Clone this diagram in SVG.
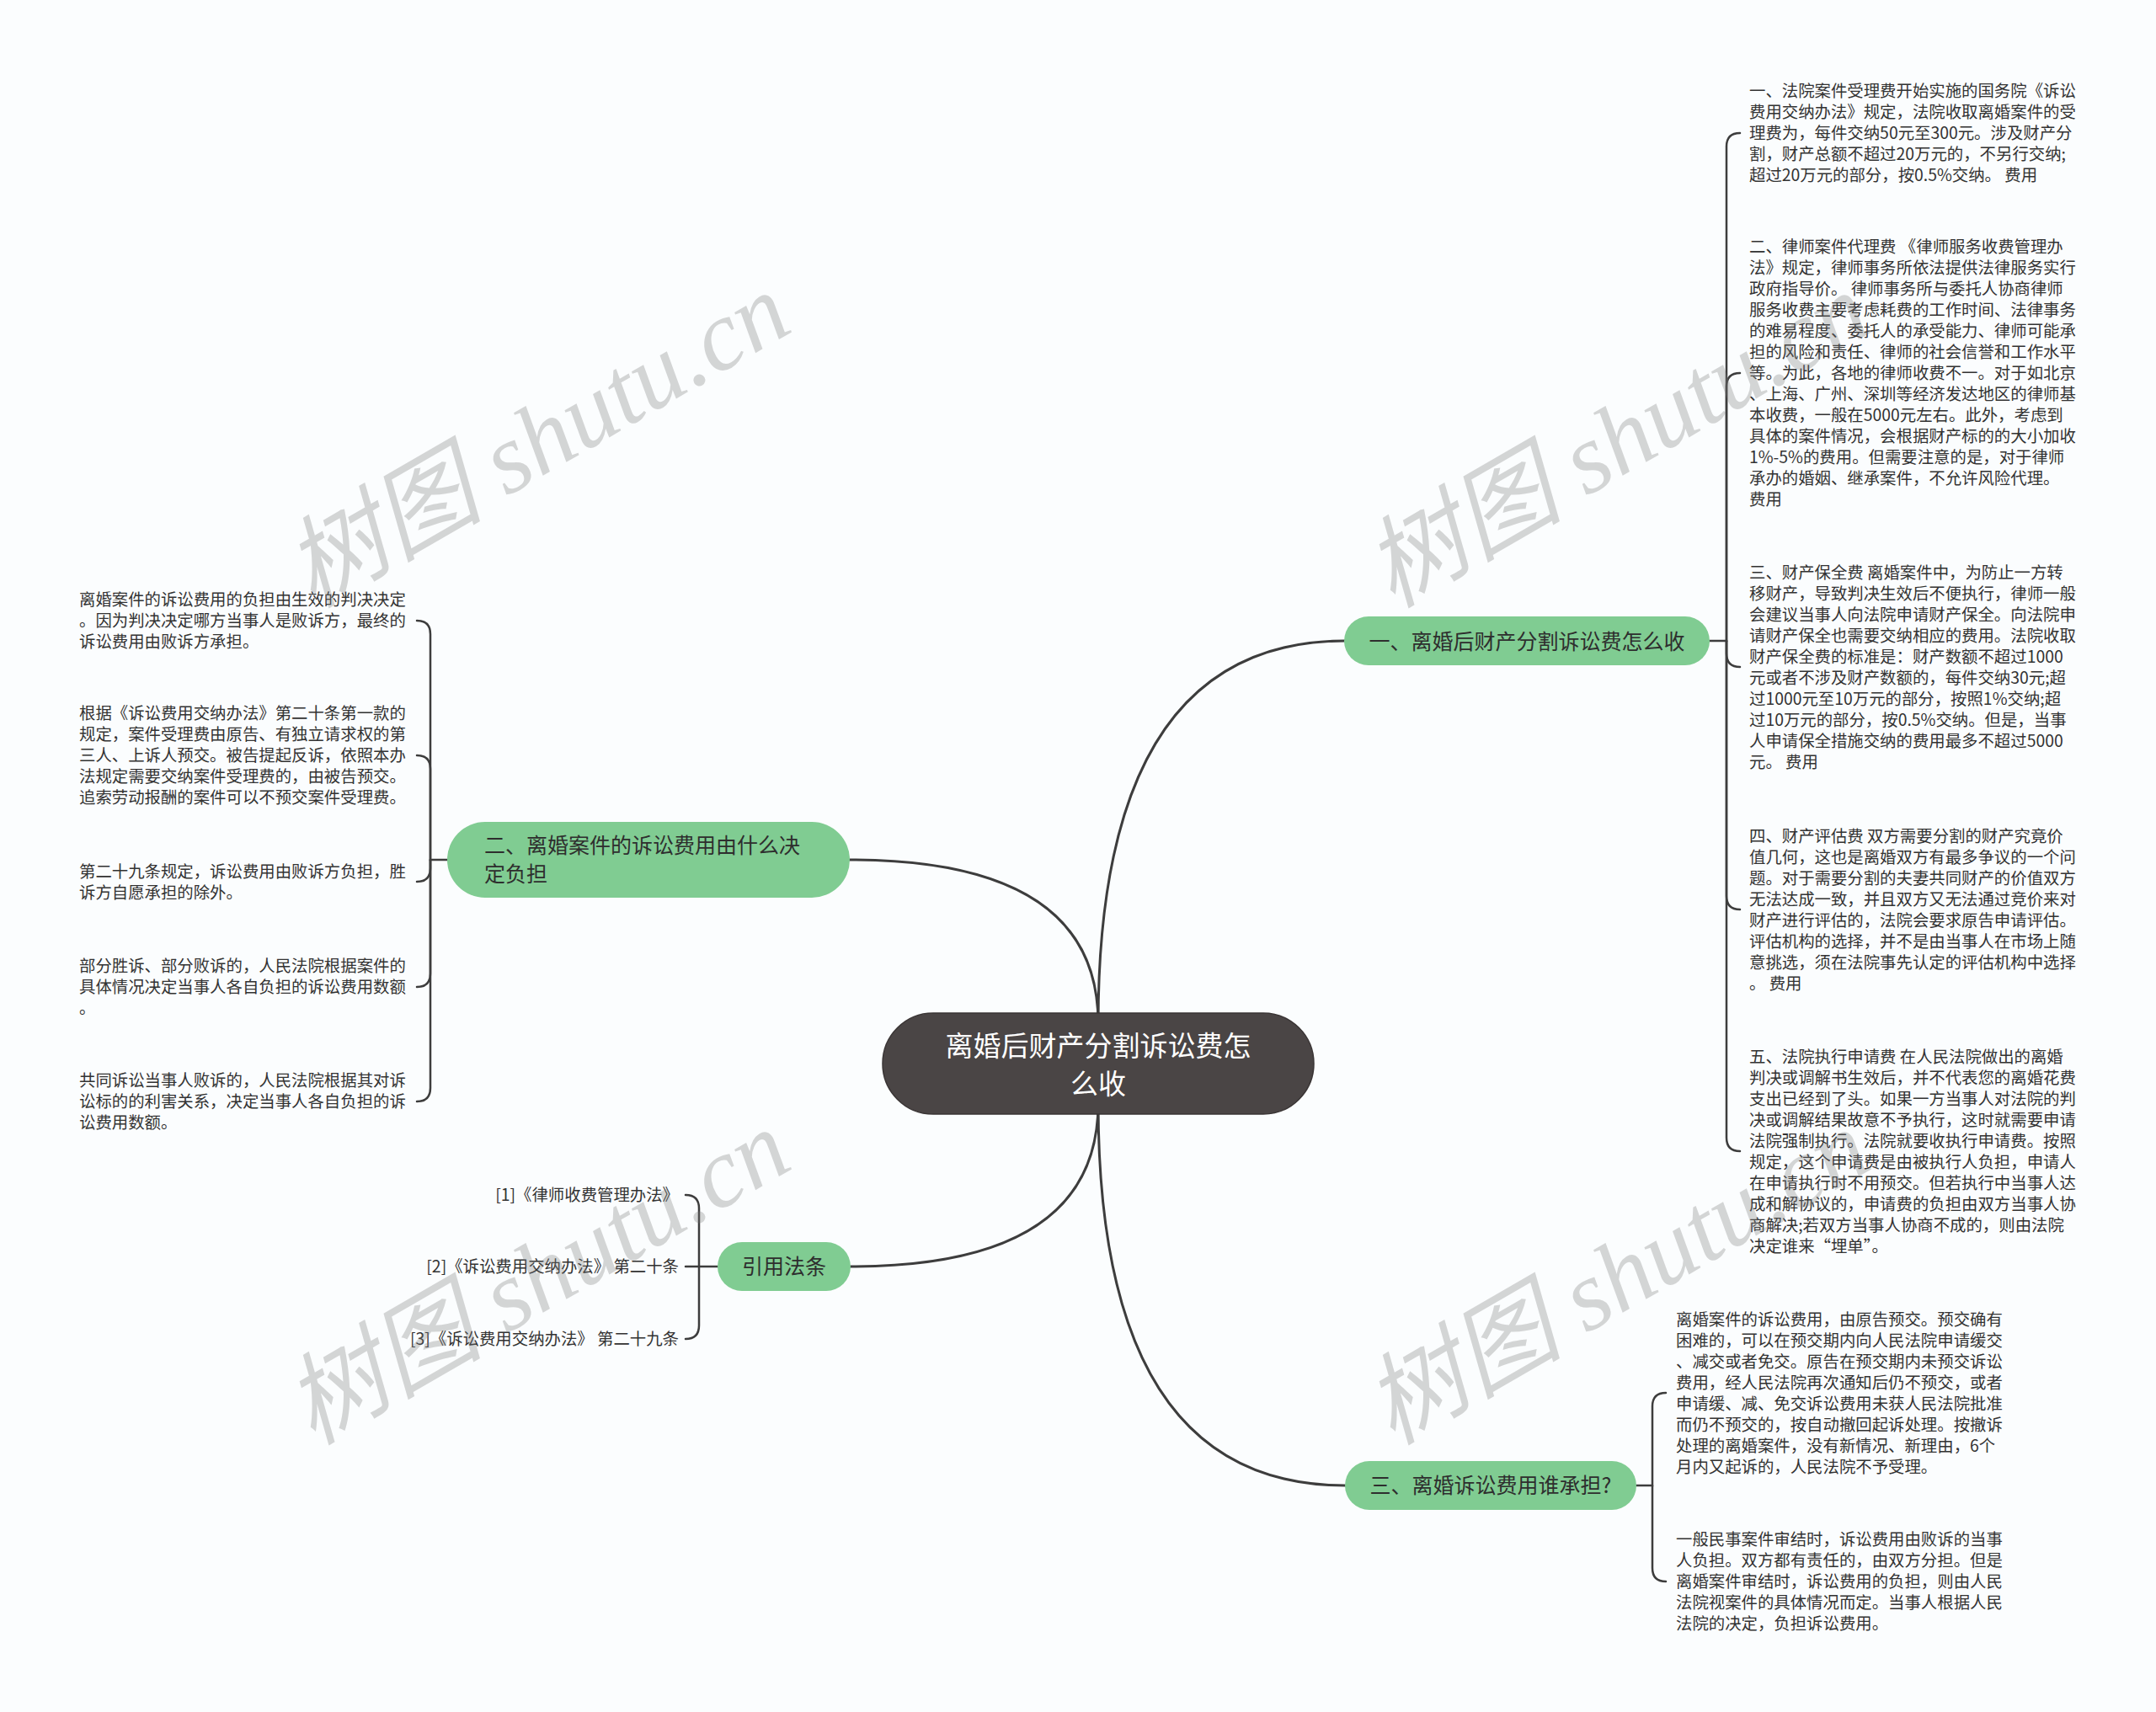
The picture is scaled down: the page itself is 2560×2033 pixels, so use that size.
<svg xmlns="http://www.w3.org/2000/svg" width="2560" height="2033" viewBox="0 0 2560 2033">
<style>
.bg{fill:#fbfdfe}
.t{font-family:"Noto Sans CJK SC","Noto Sans",sans-serif;font-size:19.4px;fill:#333}
.n{font-family:"Noto Sans CJK SC","Noto Sans",sans-serif;font-size:25px;fill:#2e2e2e}
.green{fill:#80cc92}
.root{fill:#4a4545;stroke:#3a3535;stroke-width:1.5}
.rt{font-family:"Noto Sans CJK SC","Noto Sans",sans-serif;font-size:33px;fill:#ffffff}
.c{fill:none;stroke:#3d3d3d;stroke-width:3;stroke-linecap:round}
.b{fill:none;stroke:#3d3d3d;stroke-width:2.5;stroke-linecap:round}
.wm{font-family:"Liberation Serif","Noto Sans CJK SC",serif;font-style:italic;font-size:118px;fill:#7a7a7a;opacity:.3}
</style>
<rect class="bg" x="0" y="0" width="2560" height="2033"/>

<g id="connectors">
<path class="c" d="M1304 1215 Q1304 761 1597 761"/>
<path class="c" d="M1304 1215 Q1304 1021 1009 1021"/>
<path class="c" d="M1304 1310 Q1304 1504 1010 1504"/>
<path class="c" d="M1304 1310 Q1304 1764 1597 1764"/>
<path class="b" d="M2030 761 L2050 761 L2050 174 Q2050 158 2066 158"/>
<path class="b" d="M2050 761 L2050 459 Q2050 443 2066 443"/>
<path class="b" d="M2050 761 L2050 776 Q2050 792 2066 792"/>
<path class="b" d="M2050 761 L2050 1064 Q2050 1080 2066 1080"/>
<path class="b" d="M2050 761 L2050 1351 Q2050 1367 2066 1367"/>
<path class="b" d="M531 1021 L511 1021 L511 753 Q511 737 495 737"/>
<path class="b" d="M511 1021 L511 913 Q511 897 495 897"/>
<path class="b" d="M511 1021 L511 1031 Q511 1047 495 1047"/>
<path class="b" d="M511 1021 L511 1156 Q511 1172 495 1172"/>
<path class="b" d="M511 1021 L511 1292 Q511 1308 495 1308"/>
<path class="b" d="M852 1504 L814 1504"/>
<path class="b" d="M830 1504 L830 1435 Q830 1419 814 1419"/>
<path class="b" d="M830 1504 L830 1574 Q830 1590 814 1590"/>
<path class="b" d="M1943 1764 L1962 1764 L1962 1670 Q1962 1654 1978 1654"/>
<path class="b" d="M1962 1764 L1962 1862 Q1962 1878 1978 1878"/>
</g>

<g id="root">
<rect class="root" x="1048" y="1203" width="512" height="120" rx="60"/>
<text class="rt" x="1304" y="1254" text-anchor="middle">离婚后财产分割诉讼费怎</text>
<text class="rt" x="1304" y="1299" text-anchor="middle">么收</text>
</g>

<g id="node1">
<rect class="green" x="1596" y="732" width="434" height="58" rx="29"/>
<text class="n" x="1813" y="771" text-anchor="middle">一、离婚后财产分割诉讼费怎么收</text>
</g>

<g id="node2">
<rect class="green" x="531" y="976" width="478" height="90" rx="45"/>
<text class="n" x="575" y="1013">二、离婚案件的诉讼费用由什么决</text>
<text class="n" x="575" y="1047">定负担</text>
</g>

<g id="node3">
<rect class="green" x="1597" y="1735" width="346" height="58" rx="29"/>
<text class="n" x="1770" y="1773" text-anchor="middle">三、离婚诉讼费用谁承担?</text>
</g>

<g id="node-ref">
<rect class="green" x="852" y="1475" width="158" height="58" rx="29"/>
<text class="n" x="931" y="1513" text-anchor="middle">引用法条</text>
</g>

<g id="r1">
<text class="t" x="2077" y="115">一、法院案件受理费开始实施的国务院《诉讼</text>
<text class="t" x="2077" y="140">费用交纳办法》规定，法院收取离婚案件的受</text>
<text class="t" x="2077" y="165">理费为，每件交纳50元至300元。涉及财产分</text>
<text class="t" x="2077" y="190">割，财产总额不超过20万元的，不另行交纳;</text>
<text class="t" x="2077" y="215">超过20万元的部分，按0.5%交纳。 费用</text>
</g>
<g id="r2">
<text class="t" x="2077" y="300">二、律师案件代理费 《律师服务收费管理办</text>
<text class="t" x="2077" y="325">法》规定，律师事务所依法提供法律服务实行</text>
<text class="t" x="2077" y="350">政府指导价。 律师事务所与委托人协商律师</text>
<text class="t" x="2077" y="375">服务收费主要考虑耗费的工作时间、法律事务</text>
<text class="t" x="2077" y="400">的难易程度、委托人的承受能力、律师可能承</text>
<text class="t" x="2077" y="425">担的风险和责任、律师的社会信誉和工作水平</text>
<text class="t" x="2077" y="450">等。为此，各地的律师收费不一。对于如北京</text>
<text class="t" x="2077" y="475">、上海、广州、深圳等经济发达地区的律师基</text>
<text class="t" x="2077" y="500">本收费，一般在5000元左右。此外，考虑到</text>
<text class="t" x="2077" y="525">具体的案件情况，会根据财产标的的大小加收</text>
<text class="t" x="2077" y="550">1%-5%的费用。但需要注意的是，对于律师</text>
<text class="t" x="2077" y="575">承办的婚姻、继承案件，不允许风险代理。</text>
<text class="t" x="2077" y="600">费用</text>
</g>
<g id="r3">
<text class="t" x="2077" y="687">三、财产保全费 离婚案件中，为防止一方转</text>
<text class="t" x="2077" y="712">移财产，导致判决生效后不便执行，律师一般</text>
<text class="t" x="2077" y="737">会建议当事人向法院申请财产保全。向法院申</text>
<text class="t" x="2077" y="762">请财产保全也需要交纳相应的费用。法院收取</text>
<text class="t" x="2077" y="787">财产保全费的标准是：财产数额不超过1000</text>
<text class="t" x="2077" y="812">元或者不涉及财产数额的，每件交纳30元;超</text>
<text class="t" x="2077" y="837">过1000元至10万元的部分，按照1%交纳;超</text>
<text class="t" x="2077" y="862">过10万元的部分，按0.5%交纳。但是，当事</text>
<text class="t" x="2077" y="887">人申请保全措施交纳的费用最多不超过5000</text>
<text class="t" x="2077" y="912">元。 费用</text>
</g>
<g id="r4">
<text class="t" x="2077" y="1000">四、财产评估费 双方需要分割的财产究竟价</text>
<text class="t" x="2077" y="1025">值几何，这也是离婚双方有最多争议的一个问</text>
<text class="t" x="2077" y="1050">题。对于需要分割的夫妻共同财产的价值双方</text>
<text class="t" x="2077" y="1075">无法达成一致，并且双方又无法通过竞价来对</text>
<text class="t" x="2077" y="1100">财产进行评估的，法院会要求原告申请评估。</text>
<text class="t" x="2077" y="1125">评估机构的选择，并不是由当事人在市场上随</text>
<text class="t" x="2077" y="1150">意挑选，须在法院事先认定的评估机构中选择</text>
<text class="t" x="2077" y="1175">。 费用</text>
</g>
<g id="r5">
<text class="t" x="2077" y="1262">五、法院执行申请费 在人民法院做出的离婚</text>
<text class="t" x="2077" y="1287">判决或调解书生效后，并不代表您的离婚花费</text>
<text class="t" x="2077" y="1312">支出已经到了头。如果一方当事人对法院的判</text>
<text class="t" x="2077" y="1337">决或调解结果故意不予执行，这时就需要申请</text>
<text class="t" x="2077" y="1362">法院强制执行。法院就要收执行申请费。按照</text>
<text class="t" x="2077" y="1387">规定，这个申请费是由被执行人负担，申请人</text>
<text class="t" x="2077" y="1412">在申请执行时不用预交。但若执行中当事人达</text>
<text class="t" x="2077" y="1437">成和解协议的，申请费的负担由双方当事人协</text>
<text class="t" x="2077" y="1462">商解决;若双方当事人协商不成的，则由法院</text>
<text class="t" x="2077" y="1487">决定谁来“埋单”。</text>
</g>

<g id="b1">
<text class="t" x="1990" y="1574">离婚案件的诉讼费用，由原告预交。预交确有</text>
<text class="t" x="1990" y="1599">困难的，可以在预交期内向人民法院申请缓交</text>
<text class="t" x="1990" y="1624">、减交或者免交。原告在预交期内未预交诉讼</text>
<text class="t" x="1990" y="1649">费用，经人民法院再次通知后仍不预交，或者</text>
<text class="t" x="1990" y="1674">申请缓、减、免交诉讼费用未获人民法院批准</text>
<text class="t" x="1990" y="1699">而仍不预交的，按自动撤回起诉处理。按撤诉</text>
<text class="t" x="1990" y="1724">处理的离婚案件，没有新情况、新理由，6个</text>
<text class="t" x="1990" y="1749">月内又起诉的，人民法院不予受理。</text>
</g>
<g id="b2">
<text class="t" x="1990" y="1835">一般民事案件审结时，诉讼费用由败诉的当事</text>
<text class="t" x="1990" y="1860">人负担。双方都有责任的，由双方分担。但是</text>
<text class="t" x="1990" y="1885">离婚案件审结时，诉讼费用的负担，则由人民</text>
<text class="t" x="1990" y="1910">法院视案件的具体情况而定。当事人根据人民</text>
<text class="t" x="1990" y="1935">法院的决定，负担诉讼费用。</text>
</g>

<g id="l1">
<text class="t" x="94" y="719">离婚案件的诉讼费用的负担由生效的判决决定</text>
<text class="t" x="94" y="744">。因为判决决定哪方当事人是败诉方，最终的</text>
<text class="t" x="94" y="769">诉讼费用由败诉方承担。</text>
</g>
<g id="l2">
<text class="t" x="94" y="854">根据《诉讼费用交纳办法》第二十条第一款的</text>
<text class="t" x="94" y="879">规定，案件受理费由原告、有独立请求权的第</text>
<text class="t" x="94" y="904">三人、上诉人预交。被告提起反诉，依照本办</text>
<text class="t" x="94" y="929">法规定需要交纳案件受理费的，由被告预交。</text>
<text class="t" x="94" y="954">追索劳动报酬的案件可以不预交案件受理费。</text>
</g>
<g id="l3">
<text class="t" x="94" y="1042">第二十九条规定，诉讼费用由败诉方负担，胜</text>
<text class="t" x="94" y="1067">诉方自愿承担的除外。</text>
</g>
<g id="l4">
<text class="t" x="94" y="1154">部分胜诉、部分败诉的，人民法院根据案件的</text>
<text class="t" x="94" y="1179">具体情况决定当事人各自负担的诉讼费用数额</text>
<text class="t" x="94" y="1204">。</text>
</g>
<g id="l5">
<text class="t" x="94" y="1290">共同诉讼当事人败诉的，人民法院根据其对诉</text>
<text class="t" x="94" y="1315">讼标的的利害关系，决定当事人各自负担的诉</text>
<text class="t" x="94" y="1340">讼费用数额。</text>
</g>

<g id="refs">
<text class="t" x="806" y="1426" text-anchor="end">[1]《律师收费管理办法》</text>
<text class="t" x="806" y="1511" text-anchor="end">[2]《诉讼费用交纳办法》 第二十条</text>
<text class="t" x="806" y="1597" text-anchor="end">[3]《诉讼费用交纳办法》 第二十九条</text>
</g>

<g id="watermarks">
<text class="wm" x="640" y="562" text-anchor="middle" transform="rotate(-30 640 526)">树图 shutu.cn</text>
<text class="wm" x="1922" y="562" text-anchor="middle" transform="rotate(-30 1922 526)">树图 shutu.cn</text>
<text class="wm" x="640" y="1556" text-anchor="middle" transform="rotate(-30 640 1520)">树图 shutu.cn</text>
<text class="wm" x="1922" y="1556" text-anchor="middle" transform="rotate(-30 1922 1520)">树图 shutu.cn</text>
</g>
</svg>
